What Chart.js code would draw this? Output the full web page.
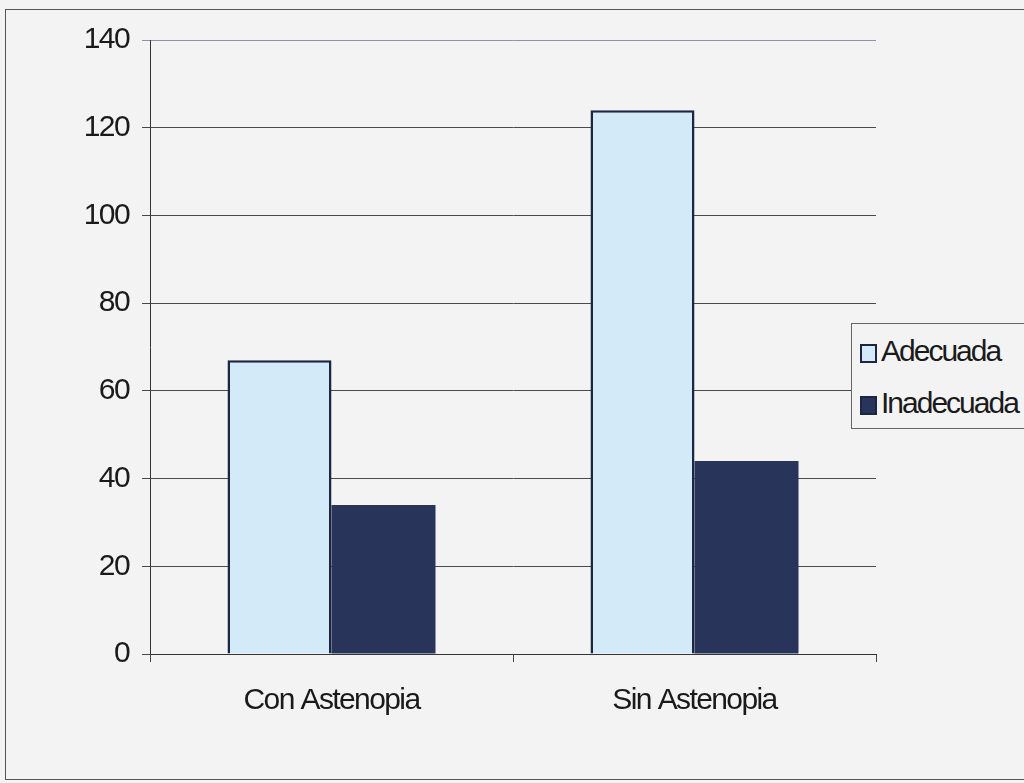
<!DOCTYPE html>
<html>
<head>
<meta charset="utf-8">
<script src="https://cdn.jsdelivr.net/npm/chart.js@4/dist/chart.umd.min.js"></script>
<style>
  html, body { margin: 0; padding: 0; background: #f3f3f3; overflow: hidden; }
  #wrap { position: relative; width: 1024px; height: 783px; }
  #frame { position: absolute; left: 5px; top: 9px; width: 1040px; height: 771px; border: 1px solid #555; box-sizing: border-box; }
  canvas { position: absolute; left: 0; top: 0; }
  #legend {
    position: absolute; left: 851px; top: 323px; width: 190px; height: 106px;
    border: 1px solid #666; box-sizing: border-box; background: #f3f3f3;
    font-family: 'Liberation Sans', Arial, sans-serif; font-size: 30px; letter-spacing: -2px; color: #1a1a1a;
  }
  .item { position: absolute; left: 8px; height: 32px; line-height: 32px; white-space: nowrap; }
  .sw { display: inline-block; width: 17px; height: 19px; box-sizing: border-box; border: 2px solid #1c2640; vertical-align: -2px; margin-right: 4px; }
</style>
</head>
<body>
<div id="wrap">
  <div id="frame"></div>
  <canvas id="chart" width="1024" height="783"></canvas>
  <div id="legend"></div>
</div>
<script>
const categories = ['Con Astenopia', 'Sin Astenopia'];
const adecuada = [67, 124];
const inadecuada = [34, 44];
const seriesNames = ['Adecuada', 'Inadecuada'];
const yTicks = [0, 20, 40, 60, 80, 100, 120, 140];

const fillColors = ['#d3eaf8', '#29345a'];
const textFont = { family: "'Liberation Sans', Arial, sans-serif", size: 30 };

// tighter letters, like the original
const spacing = {
  id: 'spacing',
  beforeUpdate(chart) { chart.ctx.letterSpacing = '-1.6px'; },
  beforeDraw(chart) { chart.ctx.letterSpacing = '-1.6px'; }
};

const ctx = document.getElementById('chart').getContext('2d');
const chart = new Chart(ctx, {
  type: 'bar',
  data: {
    labels: categories,
    datasets: [
      { label: seriesNames[0], data: adecuada, backgroundColor: fillColors[0], borderColor: '#1c2640', borderWidth: 2.5 },
      { label: seriesNames[1], data: inadecuada, backgroundColor: fillColors[1], borderColor: '#29345a', borderWidth: 0 }
    ]
  },
  options: {
    responsive: false,
    animation: false,
    layout: { padding: { left: 0, top: 40, right: 148, bottom: 49 } },
    datasets: { bar: { barPercentage: 1, categoryPercentage: 0.573 } },
    plugins: { legend: { display: false }, tooltip: { enabled: false } },
    scales: {
      x: {
        afterFit(scale) { scale.height = 80; },
        grid: { drawOnChartArea: false, drawTicks: true, tickLength: 8, color: '#444', offset: true },
        border: { color: '#333', width: 1 },
        ticks: { color: '#1a1a1a', font: textFont, padding: 21 }
      },
      y: {
        min: 0, max: 140,
        afterFit(scale) { scale.width = 150; },
        afterBuildTicks(scale) { scale.ticks = yTicks.map(v => ({ value: v })); },
        grid: {
          color: c => c.tick && c.tick.value === 140 ? '#8d93a8' : '#4a4a4a',
          lineWidth: 1, tickLength: 8
        },
        border: { color: '#333', width: 1 },
        ticks: { color: '#1a1a1a', font: textFont, padding: 13 }
      }
    }
  },
  plugins: [spacing]
});

// legend built from the same series arrays
const legend = document.getElementById('legend');
seriesNames.forEach((name, i) => {
  const item = document.createElement('div');
  item.className = 'item';
  item.style.top = (11 + i * 52) + 'px';
  const sw = document.createElement('span');
  sw.className = 'sw';
  sw.style.background = fillColors[i];
  item.appendChild(sw);
  item.appendChild(document.createTextNode(name));
  legend.appendChild(item);
});
</script>
</body>
</html>
